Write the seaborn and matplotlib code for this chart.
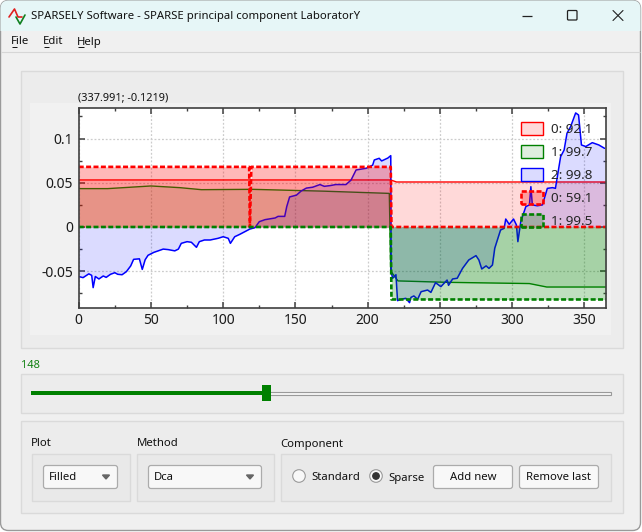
#!/usr/bin/env python3
"""SPARSELY window with the filled component plot."""

import matplotlib
matplotlib.use('Agg')
import matplotlib.pyplot as plt
from matplotlib.patches import Circle, FancyBboxPatch, Patch, Polygon, Rectangle
import seaborn as sns

# Standard components
red_x = [0, 170, 216, 220, 365]
red_y = [0.0532, 0.0532, 0.0532, 0.0509, 0.0509]
green_x = [0, 20, 50, 70, 85, 120, 170, 215, 216, 221, 255, 312, 324, 364, 365]
green_y = [0.0434, 0.0434, 0.0464, 0.0445, 0.0422, 0.0426, 0.0405, 0.038, -0.05, -0.061,
           -0.0626, -0.064, -0.0679, -0.0679, -0.0679]
blue_x = [0, 3, 7, 9, 10, 11.5, 14, 17, 19, 22, 25, 27, 30, 33, 36, 38, 42, 44, 46, 48,
          52, 55, 58.5, 62, 66.5, 69, 71, 75, 78, 81.5, 83.5, 87, 91, 96.5, 100, 103.5,
          105, 108, 111.5, 115, 118.5, 122, 125, 129, 136, 138, 142.6, 144, 146, 150.7,
          154, 157.6, 162, 167, 170, 174, 178, 185, 188.5, 192, 199, 203.5, 204.6, 208,
          209.7, 214, 216, 216.3, 217.3, 219.6, 220.7, 224, 226.5, 229, 230, 232, 234.6,
          237, 241.5, 243.8, 247, 250.7, 255, 256, 258.8, 262, 265.7, 270, 275, 277, 279,
          282, 284, 286.4, 288, 292, 294.5, 295.6, 298, 301, 303, 304, 306, 309.5, 312,
          313, 314, 317.5, 321, 324.4, 328, 330, 333.6, 336, 338, 340.5, 344, 346, 348,
          351, 355.5, 360, 364]
blue_y = [-0.056, -0.0573, -0.053, -0.0547, -0.0686, -0.056, -0.0588, -0.0554, -0.057,
          -0.0535, -0.0517, -0.0535, -0.054, -0.0505, -0.044, -0.0366, -0.036, -0.048,
          -0.037, -0.032, -0.0287, -0.027, -0.025, -0.0256, -0.027, -0.025, -0.0185,
          -0.0166, -0.0173, -0.023, -0.0166, -0.0147, -0.0147, -0.0128, -0.011, -0.0128,
          -0.0185, -0.011, -0.0083, -0.0053, -0.0023, -0.0008, 0.006, 0.0083, 0.0102,
          0.012, 0.012, 0.023, 0.034, 0.036, 0.0407, 0.044, 0.045, 0.048, 0.046, 0.0468,
          0.048, 0.048, 0.053, 0.0645, 0.0664, 0.07, 0.0758, 0.0777, 0.0747, 0.078, 0.0807,
          -0.0505, -0.058, -0.054, -0.0833, -0.0814, -0.0807, -0.0856, -0.0796, -0.078,
          -0.0818, -0.0732, -0.0713, -0.074, -0.063, -0.0675, -0.06, -0.066, -0.0588,
          -0.058, -0.0468, -0.0373, -0.0324, -0.0373, -0.0475, -0.044, -0.0468, -0.043,
          -0.024, -0.0034, -0.0015, 0.009, 0.003, 0.009, 0.0023, -0.0166, 0.006, 0.023,
          0.025, 0.0456, 0.025, 0.024, 0.025, 0.0437, 0.0445, 0.0437, 0.0796, 0.087, 0.106,
          0.1135, 0.129, 0.1267, 0.0928, 0.091, 0.0954, 0.0928, 0.089]

# Sparse components
sparse_red_x = [0, 118, 118.5, 119.5, 216, 216.5, 365]
sparse_red_y = [0.068, 0.068, 0, 0.068, 0.068, 0, 0]
sparse_green_x = [0, 216, 216.5, 365]
sparse_green_y = [0, 0, -0.082, -0.082]

legend_labels = ['0: 92.1', '1: 99.7', '2: 99.8', '0: 59.1', '1: 99.5']
x_ticks = [0, 50, 100, 150, 200, 250, 300, 350]
y_ticks = [-0.05, 0, 0.05, 0.1]
y_tick_labels = ['-0.05', '0', '0.05', '0.1']

W, H = 642, 532
AX_L, AX_T, AX_R, AX_B = 78.7, 108, 606, 307.7
UI_FONT = 'Noto Sans'
DASH = (0, (1.9, 0.9))

sns.set_theme(style="ticks")
plt.rcParams['font.family'] = [UI_FONT, 'DejaVu Sans']
plt.rcParams['axes.unicode_minus'] = False

fig = plt.figure(figsize=(W / 100, H / 100), dpi=100, facecolor='white')

# Window chrome drawn in pixel coordinates
ui = fig.add_axes([0, 0, 1, 1], zorder=0)
ui.set_xlim(0, W)
ui.set_ylim(H, 0)
ui.axis('off')


def box(x0, y0, x1, y1, face, edge=None, lw=1.0, radius=0):
    if radius:
        patch = FancyBboxPatch((x0, y0), x1 - x0, y1 - y0, boxstyle=f'round,pad=0,rounding_size={radius}',
                               facecolor=face, edgecolor=edge or 'none', linewidth=lw)
    else:
        patch = Rectangle((x0, y0), x1 - x0, y1 - y0, facecolor=face, edgecolor=edge or 'none', linewidth=lw)
    ui.add_patch(patch)
    return patch


def label(x, y, text, size=8.15, color='#111111', ha='left'):
    ui.text(x, y, text, fontsize=size, color=color, ha=ha, va='center', family=UI_FONT)


def hline(x0, x1, y, color, lw=0.8):
    ui.plot([x0, x1], [y, y], color=color, lw=lw, solid_capstyle='butt')


window = box(0.5, 0.5, W - 1.5, H - 1.5, '#F0F0F0', '#9A9A9A', 1.0, radius=8)
title_bar = box(0, 0, W, 31, '#E6F6F7')
title_bar.set_clip_path(window)
hline(1, W - 2, 51.5, '#D6D6D6')

# Title bar
ui.plot([9, 14.5, 18, 22], [17, 9, 17, 17], color='#E02020', lw=1.2)
ui.plot([16, 20, 25], [17, 24, 15], color='#108020', lw=1.2)
label(31, 16, 'SPARSELY Software - SPARSE principal component LaboratorY')
hline(522, 532, 15.5, '#222222', 0.9)
box(567.5, 10.5, 577, 20, 'none', '#222222', 0.9, radius=1)
ui.plot([613, 623], [10.5, 20.5], color='#222222', lw=0.8)
ui.plot([613, 623], [20.5, 10.5], color='#222222', lw=0.8)

# Menu
for mx, mw, name in [(11, 6, 'File'), (43, 6, 'Edit'), (77, 7, 'Help')]:
    label(mx, 42, name)
    hline(mx + 0.5, mx + mw, 46.5, '#111111', 0.7)

# Group frames
box(20.5, 71, 622.5, 347.5, '#ECECEC', '#DADADA')
box(30, 103, 611, 335, '#F1F1F1')
label(78, 97.5, '(337.991; -0.1219)', size=7.9)

label(21, 365, '148', size=7.9, color='#108010')
box(20.5, 373.5, 622.5, 412.5, '#ECECEC', '#DADADA')
box(262, 392, 610.5, 394.5, '#F4F4F4', '#9A9A9A', 0.8)
box(31, 391, 264, 395, '#008000')
box(262, 385, 271, 401, '#008000')

box(20.5, 420.5, 622.5, 512.5, '#ECECEC', '#DADADA')
label(31, 444, 'Plot')
label(136.5, 444, 'Method')
label(280.5, 444, 'Component')
box(32, 453.5, 130, 500.5, '#E9E9E9', '#DADADA')
box(137, 453.5, 274, 500.5, '#E9E9E9', '#DADADA')
box(281, 453.5, 610.5, 500.5, '#E9E9E9', '#DADADA')
for cx0, cx1, name in [(43.5, 117.5, 'Filled'), (148.5, 261.5, 'Dca')]:
    box(cx0, 465.5, cx1, 488.5, '#F8F8F8', '#ABABAB', 0.9, radius=2.5)
    label(cx0 + 5, 478, name)
    ui.add_patch(Polygon([(cx1 - 15, 475), (cx1 - 8, 475), (cx1 - 11.5, 479)], color='#666666'))
ui.add_patch(Circle((299, 476), 6.3, facecolor='#F8F8F8', edgecolor='#9A9A9A', lw=0.8))
label(311, 478, 'Standard')
ui.add_patch(Circle((376, 476), 6.3, facecolor='#F8F8F8', edgecolor='#9A9A9A', lw=0.8))
ui.add_patch(Circle((376, 476), 3.2, color='#333333'))
label(388, 478, 'Sparse')
for bx0, bx1, name in [(433.5, 512.5, 'Add new'), (519.5, 598.5, 'Remove last')]:
    box(bx0, 465.5, bx1, 488.5, '#F8F8F8', '#ABABAB', 0.9, radius=2.5)
    label((bx0 + bx1) / 2, 478, name, ha='center')

# Plot
ax = fig.add_axes([AX_L / W, 1 - AX_B / H, (AX_R - AX_L) / W, (AX_B - AX_T) / H], zorder=1)
ax.set_facecolor('white')
ax.set_axisbelow(True)

series = [
    (red_x, red_y, '#FF0000', 0.15, '-', 1.0),
    (green_x, green_y, '#008000', 0.13, '-', 1.0),
    (blue_x, blue_y, '#0000FF', 0.14, '-', 1.1),
    (sparse_red_x, sparse_red_y, '#FF0000', 0.28, DASH, 1.9),
    (sparse_green_x, sparse_green_y, '#008000', 0.25, DASH, 1.9),
]
for i, (xs, ys, color, alpha, style, width) in enumerate(series):
    ax.fill_between(xs, ys, 0, color=color, alpha=alpha, linewidth=0, zorder=3 + 2 * i)
    sns.lineplot(x=xs, y=ys, ax=ax, color=color, estimator=None, sort=False, errorbar=None,
                 linewidth=width, linestyle=style, zorder=4 + 2 * i)

ax.set_xlim(0, 365)
ax.set_ylim(-0.0913, 0.1346)
ax.set_xticks(x_ticks)
ax.set_yticks(y_ticks, labels=y_tick_labels)
ax.set_xticks([v + 25 for v in x_ticks[:-1]], minor=True)
ax.set_yticks([-0.075, -0.025, 0.025, 0.075, 0.125], minor=True)
ax.grid(True, which='major', color='#CCCCCC', linestyle=(0, (1.5, 1.5)), linewidth=0.9)
ax.tick_params(which='major', direction='in', length=4.2, width=1.1, color='#404040', top=True, right=True,
               labelsize=10, labelcolor='#1A1A1A', pad=4)
ax.tick_params(which='minor', direction='in', length=2.2, width=1.0, color='#404040', top=True, right=True)
for spine in ax.spines.values():
    spine.set_color('#404040')
    spine.set_linewidth(1.2)
    spine.set_zorder(20)

handles = [
    Patch(facecolor=(1, 0, 0, 0.15), edgecolor='#FF0000', linewidth=1.0),
    Patch(facecolor=(0, 0.5, 0, 0.13), edgecolor='#008000', linewidth=1.0),
    Patch(facecolor=(0, 0, 1, 0.14), edgecolor='#0000FF', linewidth=1.0),
    Patch(facecolor=(1, 0, 0, 0.28), edgecolor='#FF0000', linewidth=1.9, linestyle=DASH),
    Patch(facecolor=(0, 0.5, 0, 0.25), edgecolor='#008000', linewidth=1.9, linestyle=DASH),
]
legend = ax.legend(handles, legend_labels, loc='upper left', frameon=False, fontsize=9.7, borderpad=0, borderaxespad=0,
                   bbox_to_anchor=((520.7 - AX_L) / (AX_R - AX_L), (AX_B - 121.7) / (AX_B - AX_T)),
                   handlelength=1.68, handleheight=1.11, labelspacing=0.67, handletextpad=0.55)
legend.set_zorder(30)

plt.savefig('out.png', dpi=100)
plt.close()
